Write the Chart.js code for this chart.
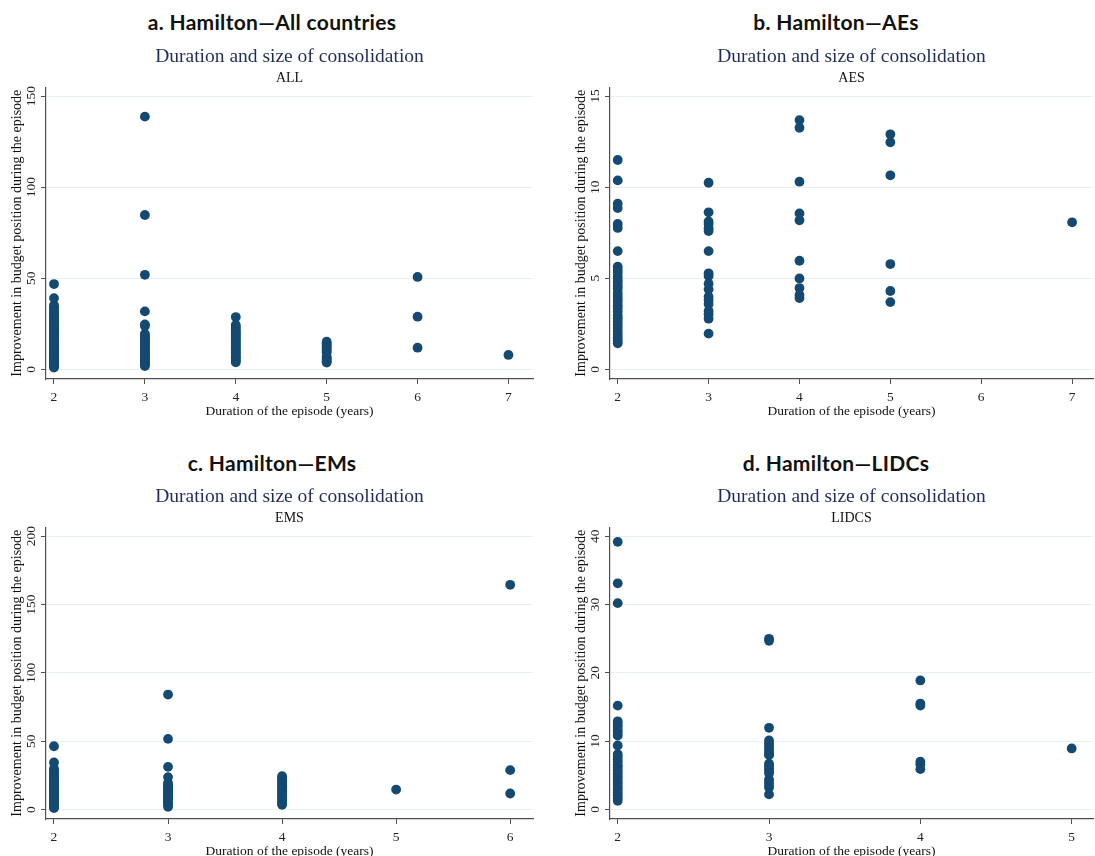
<!DOCTYPE html>
<html lang="en">
<head>
<meta charset="UTF-8">
<title>Hamilton – duration and size of consolidation</title>
<script src="https://cdn.jsdelivr.net/npm/chart.js"></script>
<style>
  body { margin: 0; width: 1095px; height: 856px; overflow: hidden; background: #fff; position: relative; }
  .head { position: absolute; width: 400px; text-align: center; font-family: Lato, "Open Sans", sans-serif;
          font-weight: 700; font-size: 21px; line-height: 22px; letter-spacing: 0.3px; color: #111; }
  canvas { position: absolute; }
</style>
</head>
<body>
<div class="head" style="left:72px; top:11px">a. Hamilton—All countries</div>
<div class="head" style="left:636px; top:11px">b. Hamilton—AEs</div>
<div class="head" style="left:72px; top:452px">c. Hamilton—EMs</div>
<div class="head" style="left:636px; top:452px">d. Hamilton—LIDCs</div>

<canvas id="chartAll" width="547" height="381" style="left:0; top:38px"></canvas>
<canvas id="chartAes" width="531" height="381" style="left:564px; top:38px"></canvas>
<canvas id="chartEms" width="547" height="381" style="left:0; top:478px"></canvas>
<canvas id="chartLidcs" width="531" height="381" style="left:564px; top:478px"></canvas>

<script>
// ---- data (duration in years -> improvement in budget position, one list per duration) ----
const allDurations = [2, 3, 4, 5, 6, 7];
const allValues = [
  [46.8, 39.1, 35.2, 34.0, 33.1, 32.0, 31.2, 30.1, 29.3, 28.4, 27.6, 26.5, 25.8, 24.9, 24.0, 23.1, 22.3,
   21.4, 20.6, 19.7, 18.9, 18.0, 17.2, 16.3, 15.5, 14.6, 13.8, 12.9, 12.1, 11.2, 10.4, 9.6, 8.7, 7.9,
   7.1, 6.3, 5.5, 4.7, 3.9, 3.1, 2.4, 1.6, 1.0],
  [138.7, 84.7, 51.9, 31.8, 24.7, 23.8, 19.4, 18.6, 17.7, 16.9, 16.0, 15.2, 14.3, 13.5, 12.6, 11.8, 10.9,
   10.1, 9.2, 8.4, 7.5, 6.7, 5.8, 5.0, 4.1, 3.3, 2.5, 1.8],
  [28.7, 24.3, 23.2, 22.0, 21.1, 20.2, 19.3, 18.4, 17.5, 16.6, 15.7, 14.8, 13.9, 13.0, 12.1, 11.2, 10.3,
   9.4, 8.5, 7.6, 6.7, 5.8, 4.9, 3.9],
  [15.2, 14.3, 13.4, 12.5, 11.6, 10.5, 9.4, 7.0, 6.1, 5.2, 4.4, 3.7],
  [50.7, 28.9, 11.9],
  [7.9]
];

const aesDurations = [2, 3, 4, 5, 7];
const aesValues = [
  [11.49, 10.37, 9.09, 8.85, 7.98, 7.76, 6.49, 5.63, 5.45, 5.29, 5.08, 4.91, 4.77, 4.58, 4.42, 4.19, 4.03,
   3.86, 3.71, 3.52, 3.37, 3.18, 2.96, 2.81, 2.63, 2.44, 2.27, 2.08, 1.91, 1.74, 1.58, 1.43],
  [10.24, 8.62, 8.12, 7.98, 7.74, 7.59, 6.49, 5.27, 5.12, 4.70, 4.39, 3.99, 3.80, 3.59, 3.20, 3.02, 2.78, 1.96],
  [13.68, 13.26, 10.30, 8.56, 8.18, 5.96, 4.99, 4.46, 4.08, 3.91],
  [12.90, 12.46, 10.65, 5.78, 4.30, 3.69],
  [8.07]
];

const emsDurations = [2, 3, 4, 5, 6];
const emsValues = [
  [46.3, 34.4, 29.8, 28.5, 27.4, 26.1, 24.9, 23.8, 22.6, 21.3, 20.2, 19.0, 17.7, 16.6, 15.4, 14.1, 13.0,
   11.8, 10.5, 9.4, 8.2, 6.9, 5.8, 4.6, 3.3, 2.2, 1.0],
  [84.1, 51.7, 31.2, 23.7, 19.5, 18.3, 17.0, 15.8, 14.6, 13.3, 12.1, 10.8, 9.7, 8.4, 7.2, 6.0, 4.7, 3.5, 2.0],
  [24.4, 23.2, 21.9, 20.6, 19.5, 18.2, 17.0, 15.7, 14.5, 13.3, 12.0, 10.8, 9.6, 8.3, 7.1, 5.9, 4.6, 3.4],
  [14.6],
  [164.4, 28.8, 11.7]
];

const lidcsDurations = [2, 3, 4, 5];
const lidcsValues = [
  [39.17, 33.1, 30.2, 15.2, 12.9, 12.5, 12.1, 11.6, 11.2, 10.8, 9.37, 8.1, 7.72, 7.31, 6.93, 6.48, 6.12,
   5.69, 5.31, 4.88, 4.52, 4.09, 3.71, 3.28, 2.91, 2.47, 2.08, 1.69, 1.27],
  [24.98, 24.68, 11.95, 10.1, 9.7, 9.3, 8.9, 8.5, 8.1, 7.95, 6.7, 6.4, 6.0, 5.7, 5.3, 4.4, 4.0, 3.6, 3.2, 2.2],
  [18.88, 15.5, 15.2, 6.98, 6.6, 5.9],
  [8.93]
];

const allXTicks = [2, 3, 4, 5, 6, 7];
const aesXTicks = [2, 3, 4, 5, 6, 7];
const emsXTicks = [2, 3, 4, 5, 6];
const lidcsXTicks = [2, 3, 4, 5];
const allYTicks = [0, 50, 100, 150];
const aesYTicks = [0, 5, 10, 15];
const emsYTicks = [0, 50, 100, 150, 200];
const lidcsYTicks = [0, 10, 20, 30, 40];

// ---- styling ----
const SERIF = '"Liberation Serif", "Times New Roman", serif';
const DOT = '#144a72';
const AXIS = '#4f4f4f';
const GRID = '#e7f0f2';

function yTickPad(labels) {
  const ctx = document.createElement('canvas').getContext('2d');
  ctx.font = '13.5px ' + SERIF;
  const w = Math.max(...labels.map(v => ctx.measureText(String(v)).width));
  return 9.3 - w / 2;
}

function makeChart(id, durations, values, xTicks, yTicks, group, xr, yr, rightPad) {
  const points = [];
  durations.forEach((d, i) => values[i].forEach(v => points.push({ x: d, y: v })));

  new Chart(document.getElementById(id), {
    type: 'scatter',
    data: {
      datasets: [{
        data: points,
        backgroundColor: DOT,
        borderWidth: 0,
        pointRadius: 4.9,
        pointHoverRadius: 4.9
      }]
    },
    options: {
      responsive: false,
      animation: false,
      layout: { padding: { left: 0, right: rightPad, top: 0, bottom: 0 }, autoPadding: false },
      plugins: {
        legend: { display: false },
        tooltip: { enabled: false },
        title: {
          display: true,
          text: 'Duration and size of consolidation',
          fullSize: false,
          color: '#1f2d5a',
          font: { family: SERIF, size: 19.5, weight: 'normal' },
          padding: { top: 6.8, bottom: 0 }
        },
        subtitle: {
          display: true,
          text: group,
          fullSize: false,
          color: '#111',
          font: { family: SERIF, size: 14, weight: 'normal' },
          padding: { top: 1.9, bottom: 0.4 }
        }
      },
      scales: {
        x: {
          type: 'linear',
          min: xr[0],
          max: xr[1],
          afterBuildTicks: s => { s.ticks = xTicks.map(v => ({ value: v })); },
          afterFit: s => { s.height = 40; },
          ticks: { font: { family: SERIF, size: 13.5 }, color: '#222', padding: 5.5, maxRotation: 0, autoSkip: false },
          grid: { drawOnChartArea: false, drawTicks: true, tickLength: 5, tickColor: AXIS, tickWidth: 1 },
          border: { display: true, color: AXIS, width: 1.2 },
          title: {
            display: true,
            text: 'Duration of the episode (years)',
            color: '#111',
            font: { family: SERIF, size: 13.5 },
            padding: { top: 0, bottom: -0.8 }
          }
        },
        y: {
          min: yr[0],
          max: yr[1],
          afterBuildTicks: s => { s.ticks = yTicks.map(v => ({ value: v })); },
          afterFit: s => { s.width = 46; },
          ticks: {
            font: { family: SERIF, size: 13.5 }, color: '#222', minRotation: 90, maxRotation: 90,
            crossAlign: 'center', padding: yTickPad(yTicks)
          },
          grid: { color: GRID, lineWidth: 1, drawTicks: true, tickLength: 5, tickColor: AXIS, tickWidth: 1 },
          border: { display: true, color: AXIS, width: 1.2 },
          title: {
            display: true,
            text: 'Improvement in budget position during the episode',
            color: '#111',
            font: { family: SERIF, size: 14 },
            padding: { top: 8.6, bottom: 0 }
          }
        }
      }
    }
  });
}

makeChart('chartAll', allDurations, allValues, allXTicks, allYTicks, 'ALL', [1.912, 7.27], [-5.3, 154.8], 14);
makeChart('chartAes', aesDurations, aesValues, aesXTicks, aesYTicks, 'AES', [1.915, 7.23], [-0.53, 15.48], 2);
makeChart('chartEms', emsDurations, emsValues, emsXTicks, emsYTicks, 'EMS', [1.93, 6.2], [-6.95, 206.5], 14);
makeChart('chartLidcs', lidcsDurations, lidcsValues, lidcsXTicks, lidcsYTicks, 'LIDCS', [1.949, 5.141], [-1.4, 41.3], 2);
</script>
</body>
</html>
